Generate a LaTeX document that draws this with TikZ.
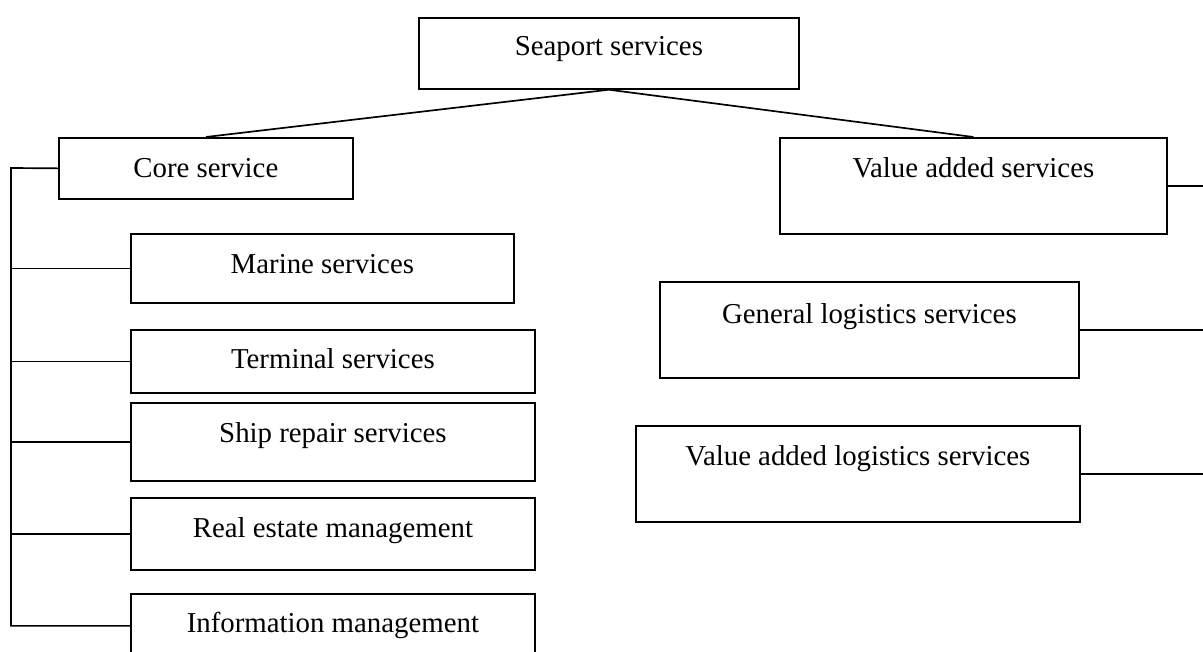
\documentclass[tikz,border=0pt]{standalone}
\usepackage{fontspec}
\setmainfont{Liberation Serif}

\begin{document}
\begin{tikzpicture}[x=0.025cm,y=-0.025cm,
					box/.style={draw,line width=1.2pt,inner sep=0pt,anchor=north west,font=\fontsize{20.5}{24}\selectfont},
					ln/.style={line width=1.2pt}]
\useasboundingbox (0,0) rectangle (1203,651);
\node[box,minimum width=9.5cm,text height=0.95cm,text depth=0.825cm] (sea) at (418,17) {Seaport services};
\node[box,minimum width=7.35cm,text height=1cm,text depth=0.525cm] (core) at (58,137) {Core service};
\node[box,minimum width=9.675cm,text height=1cm,text depth=1.4cm] (vas) at (779,137) {Value added services};
\node[box,minimum width=9.575cm,text height=1cm,text depth=0.725cm] (marine) at (130,233) {Marine services};
\node[box,minimum width=10.1cm,text height=0.975cm,text depth=0.6cm] (term) at (130,329) {Terminal services};
\node[box,minimum width=10.1cm,text height=1cm,text depth=0.95cm] (ship) at (130,402) {Ship repair services};
\node[box,minimum width=10.1cm,text height=1cm,text depth=0.8cm] (real) at (130,497) {Real estate management};
\node[box,minimum width=10.1cm,text height=0.975cm,text depth=0.625cm] (info) at (130,593) {Information management};
\node[box,minimum width=10.475cm,text height=1.05cm,text depth=1.35cm] (gen) at (659,281) {General logistics services};
\node[box,minimum width=11.1cm,text height=1cm,text depth=1.4cm] (val) at (635,425) {Value added logistics services};
% spine on the left, free ends on the right
\coordinate (lt) at (11,168);
\coordinate (edge) at (1215,0);
\draw[ln] (sea.south) -- (core.north);
\draw[ln] (sea.south) -- (vas.north);
\draw[ln] (core.west) -- (lt) |- (info.west);
\foreach \n in {marine,term,ship,real}
	\draw[ln] (\n.west) -- (\n.west -| lt);
\foreach \n in {vas,gen,val}
	\draw[ln] (\n.east) -- (\n.east -| edge);
\end{tikzpicture}
\end{document}
